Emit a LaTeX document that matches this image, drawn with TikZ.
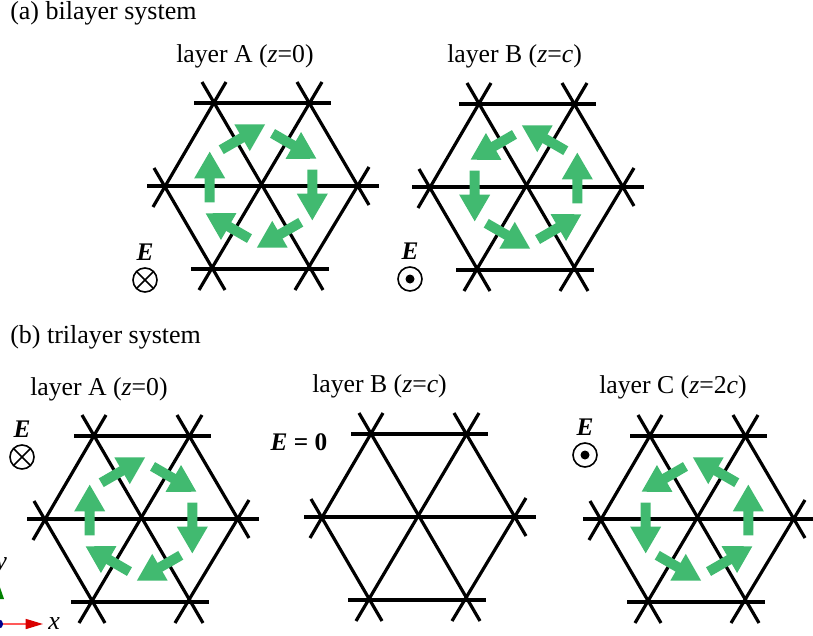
\documentclass[tikz,border=0pt]{standalone}
\usepackage{tikz}
\usetikzlibrary{arrows.meta, positioning}
\usepackage{fontspec}
\setmainfont{Liberation Serif}
\usepackage{xcolor}
\definecolor{flowgreen}{HTML}{41BA70}

\begin{document}
\begin{tikzpicture}[
        x=0.75pt, y=-0.75pt,
        node distance=5pt,
        caption/.style={anchor=base west, inner sep=0pt, font=\fontsize{19.5}{22}\selectfont},
        layerlabel/.style={caption, font=\fontsize{19.3}{22}\selectfont},
        fieldlabel/.style={inner sep=0pt, font=\fontsize{19}{20}\selectfont\bfseries\itshape},
        fieldin/.style={circle, draw=black, line width=1.2pt, minimum size=18pt, inner sep=0pt,
            path picture={\draw [line width=1.2pt] (path picture bounding box.north west) -- (path picture bounding box.south east)
                (path picture bounding box.north east) -- (path picture bounding box.south west);}},
        fieldout/.style={circle, draw=black, line width=1.2pt, minimum size=18pt, inner sep=0pt,
            path picture={\fill [black] (path picture bounding box.center) circle (4.5);}},
        bond/.style={line width=2.4pt, draw=black},
        lattice/.pic={
            \draw [bond] (-114,0) -- (118,0);
            \draw [bond] (-67,-83) -- (70,-83);
            \draw [bond] (-70,83) -- (68,83);
            \draw [bond] (-108,21) -- (-35,-104);
            \draw [bond] (-59,-104) -- (62,104);
            \draw [bond] (-62,104) -- (61,-104);
            \draw [bond] (-107,-18) -- (-36,104);
            \draw [bond] (36,-104) -- (108,19);
            \draw [bond] (34,104) -- (108,-19);
        },
        flowring/.pic={
            \foreach \ang in {0,60,...,300} {
                \fill [flowgreen, rotate=\ang] (46.3,-16.3) -- (56.3,-16.3) -- (56.3,7.7) -- (66.8,7.7)
                    -- (51.3,34.3) -- (35.8,7.7) -- (46.3,7.7) -- cycle;
            }
        }
    ]
    \clip (0,0) rectangle (813,635);

    % The Headings
    \node (titleA) [caption] at (10,20) {(a) bilayer system};
    \node (titleB) [caption] at (10,343) {(b) trilayer system};

    % The Bilayer
    \node (labelAa) [layerlabel] at (176,63) {layer A (\textit{z}=0)};
    \node (labelAb) [layerlabel] at (447,63) {layer B (\textit{z}=\textit{c})};
    \pic at (261,186) {lattice};
    \pic at (261,186) {flowring};
    \pic at (526,187) {lattice};
    \pic [xscale=-1] at (526,187) {flowring};
    \node (fieldAa) [fieldin] at (145,280) {};
    \node (fieldAb) [fieldout] at (410,279) {};
    \node (eAa) [fieldlabel, above=of fieldAa] {E};
    \node (eAb) [fieldlabel, above=of fieldAb] {E};

    % The Trilayer
    \node (labelBa) [layerlabel] at (30,395) {layer A (\textit{z}=0)};
    \node (labelBb) [layerlabel] at (312,392) {layer B (\textit{z}=\textit{c})};
    \node (labelBc) [layerlabel] at (599,393) {layer C (\textit{z}=2\textit{c})};
    \pic at (141,519) {lattice};
    \pic at (141,519) {flowring};
    \pic at (418,517) {lattice};
    \pic at (697,519) {lattice};
    \pic [xscale=-1] at (697,519) {flowring};
    \node (fieldBa) [fieldin] at (22,457) {};
    \node (fieldBc) [fieldout] at (585,455) {};
    \node (eBa) [fieldlabel, above=of fieldBa] {E};
    \node (eBc) [fieldlabel, above=of fieldBc] {E};
    \node (eBb) [fieldlabel, font=\fontsize{19}{20}\selectfont\bfseries] at (299,442) {\textit{E} = 0};

    % The Axes
    \node (origin) [circle, fill=blue!55!black, minimum size=7pt, inner sep=0pt] at (-1.5,624) {};
    \coordinate (xend) at (43,624);
    \coordinate (yend) at (-1.5,583);
    \draw [-{Triangle[length=13pt, width=7.5pt, color=red!85!black]}, line width=1.2pt, draw=red!65] (origin) -- (xend);
    \draw [-{Triangle[length=12pt, width=8pt, color=green!50!black]}, line width=1.2pt, draw=green!50!black] (origin) -- (yend);
    \node (xlabel) [caption] at (48,629) {\textit{x}};
    \node (ylabel) [caption] at (-5,569) {\textit{y}};
\end{tikzpicture}
\end{document}
